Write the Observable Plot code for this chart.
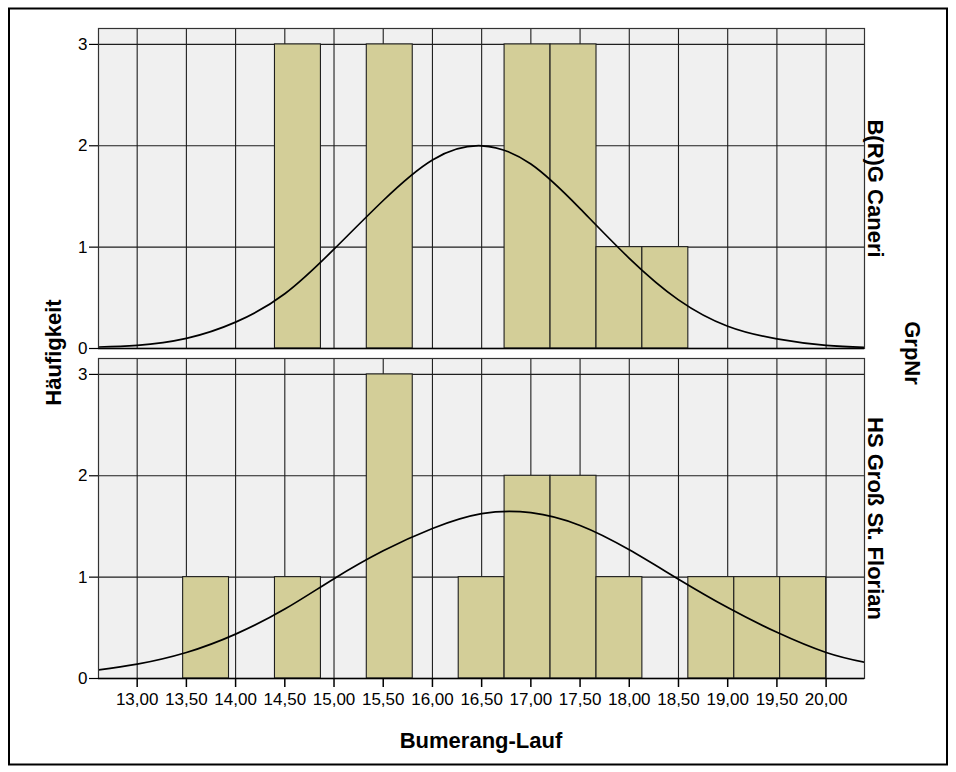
<!DOCTYPE html>
<html>
<head>
<meta charset="utf-8">
<script src="https://cdn.jsdelivr.net/npm/d3@7"></script>
<script src="https://cdn.jsdelivr.net/npm/@observablehq/plot@0.6"></script>
<style>
  html, body { margin: 0; padding: 0; background: white; overflow: hidden; }
  #chart svg { display: block; }
  #chart g[aria-label="x-axis tick label"], #chart g[aria-label="y-axis tick label"] { font-size: 17px; }
</style>
</head>
<body>
<div id="chart"></div>
<script>
// ---- data ----
const groups = ["B(R)G Caneri", "HS Groß St. Florian"];
const binEdges = [13.467, 13.933, 14.400, 14.867, 15.333, 15.800, 16.267, 16.733, 17.200, 17.667, 18.133, 18.600, 19.067, 19.533, 20.000];
const countsCaneri  = [0, 0, 3, 0, 3, 0, 0, 3, 3, 1, 1, 0, 0, 0];
const countsFlorian = [1, 0, 1, 0, 3, 0, 1, 2, 2, 1, 0, 1, 1, 1];
const curveX       = [12.61, 13.0, 13.5, 14.0, 14.5, 15.0, 15.5, 16.0, 16.5, 17.0, 17.5, 18.0, 18.5, 19.0, 19.5, 20.0, 20.39];
const curveCaneri  = [0.015, 0.03, 0.10, 0.26, 0.54, 0.98, 1.46, 1.86, 2.00, 1.82, 1.38, 0.89, 0.48, 0.22, 0.095, 0.03, 0.012];
const curveFlorian = [0.086, 0.142, 0.257, 0.438, 0.685, 0.985, 1.26, 1.48, 1.626, 1.636, 1.51, 1.27, 0.98, 0.70, 0.456, 0.257, 0.16];
const xTicks = [13, 13.5, 14, 14.5, 15, 15.5, 16, 16.5, 17, 17.5, 18, 18.5, 19, 19.5, 20];
const yTicks = [0, 1, 2, 3];
const yGrid = [1, 2, 3];
const xTitle = "Bumerang-Lauf";
const yTitle = "Häufigkeit";
const facetTitle = "GrpNr";

// ---- tables built from the arrays ----
const bars = [];
[countsCaneri, countsFlorian].forEach((counts, gi) => {
  counts.forEach((c, i) => {
    if (c > 0) bars.push({grp: groups[gi], x1: binEdges[i], x2: binEdges[i + 1], n: c});
  });
});
const curves = [];
[curveCaneri, curveFlorian].forEach((vals, gi) => {
  vals.forEach((v, i) => curves.push({grp: groups[gi], x: curveX[i], y: v}));
});
const labels = groups.map(g => ({grp: g}));

const font = "'Liberation Sans', Arial, Helvetica, sans-serif";
const fmt = d => d.toFixed(2).replace(".", ",");

const chart = Plot.plot({
  width: 956,
  height: 772,
  marginLeft: 98,
  marginRight: 92,
  marginTop: 28,
  marginBottom: 94,
  style: {fontFamily: font, fontSize: "16px", background: "white", color: "black", overflow: "visible"},
  x: {domain: [12.607, 20.39]},
  y: {domain: [0, 3.157]},
  fy: {domain: groups, paddingInner: 10 / 330, paddingOuter: 0, round: false, axis: null, label: null},
  marks: [
    Plot.frame({fill: "#f0f0f0", stroke: null}),
    Plot.ruleX(xTicks, {stroke: "#1e1e1e", strokeWidth: 1.1}),
    Plot.ruleY(yGrid, {stroke: "#1e1e1e", strokeWidth: 1.1}),
    Plot.rectY(bars, {x1: "x1", x2: "x2", y: "n", fy: "grp", fill: "#d3ce98", stroke: "#1e1e1e", strokeWidth: 1.1}),
    Plot.line(curves, {x: "x", y: "y", fy: "grp", z: "grp", curve: "natural", stroke: "black", strokeWidth: 1.7, clip: true}),
    Plot.frame({stroke: "#333", strokeWidth: 1.2}),
    Plot.ruleY([0], {stroke: "black", strokeWidth: 1.6}),
    Plot.axisY({ticks: yTicks, tickSize: 9, tickPadding: 2, fontSize: 17, label: null, tickFormat: d => String(d), stroke: "black", strokeWidth: 1.2}),
    Plot.axisX({ticks: xTicks, tickSize: 9, tickPadding: 5, fontSize: 17, label: null, tickFormat: fmt, stroke: "black", strokeWidth: 1.5}),
    Plot.text(labels, {fy: "grp", text: "grp", frameAnchor: "right", rotate: 90, dx: 11, textAnchor: "middle", lineAnchor: "middle", fontSize: 22, fontWeight: "bold", fill: "black"})
  ]
});

document.getElementById("chart").appendChild(chart);

// decorations: outer border and titles
const svg = d3.select(chart);
svg.append("rect")
  .attr("x", 9).attr("y", 8.5).attr("width", 938).attr("height", 756)
  .attr("fill", "none").attr("stroke", "black").attr("stroke-width", 2);
svg.append("text")
  .attr("x", 481).attr("y", 748)
  .attr("text-anchor", "middle")
  .attr("font-size", 22).attr("font-weight", "bold").attr("font-family", font)
  .attr("fill", "black")
  .text(xTitle);
svg.append("text")
  .attr("transform", "translate(61,352.5) rotate(-90)")
  .attr("text-anchor", "middle")
  .attr("font-size", 22).attr("font-weight", "bold").attr("font-family", font)
  .attr("fill", "black")
  .text(yTitle);
svg.append("text")
  .attr("transform", "translate(905,353) rotate(90)")
  .attr("text-anchor", "middle")
  .attr("font-size", 22).attr("font-weight", "bold").attr("font-family", font)
  .attr("fill", "black")
  .text(facetTitle);
</script>
</body>
</html>
